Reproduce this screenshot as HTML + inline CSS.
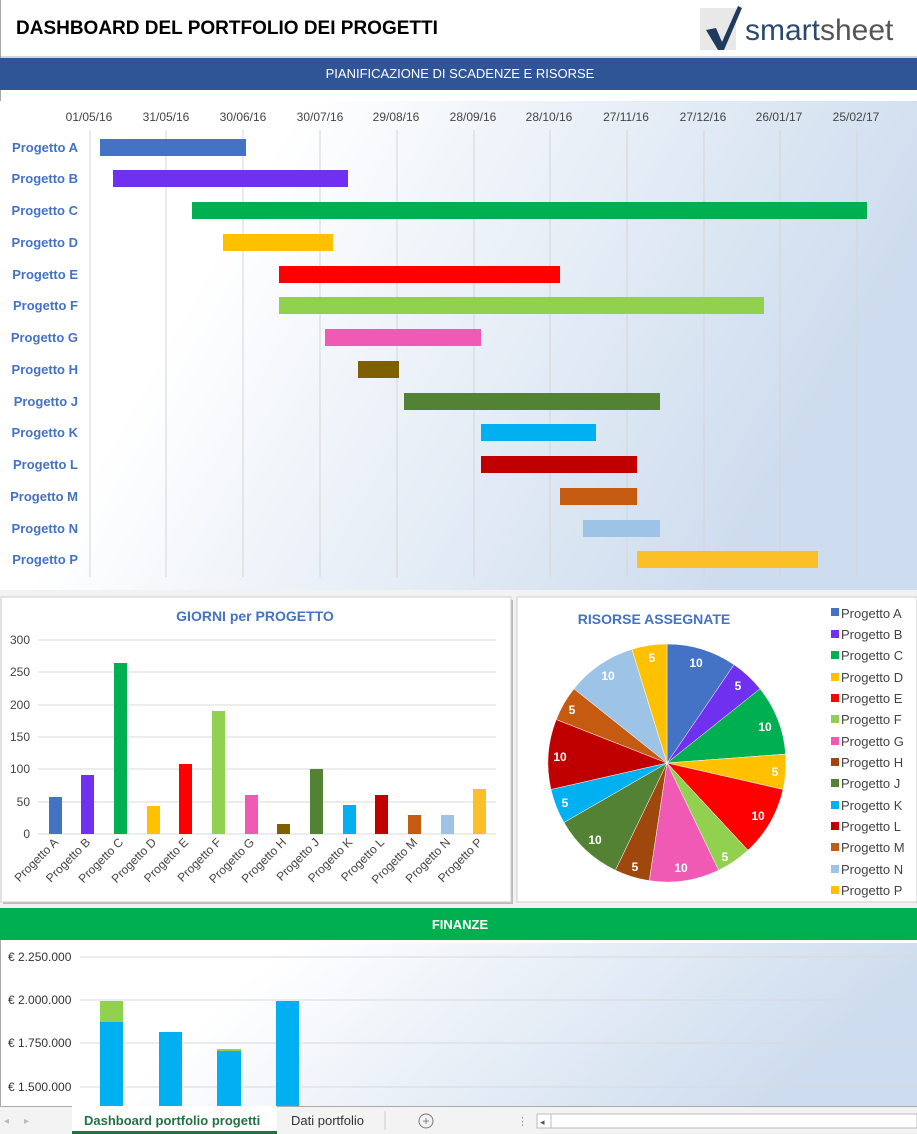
<!DOCTYPE html>
<html><head><meta charset="utf-8"><style>
body{margin:0;width:917px;height:1134px;overflow:hidden;background:#fff;font-family:"Liberation Sans",Arial,sans-serif;}
svg{position:absolute;left:0;top:0}
</style></head><body>
<svg width="917" height="1134" viewBox="0 0 917 1134" font-family="Liberation Sans, Arial, sans-serif">
<defs>
<linearGradient id="g1" x1="0" y1="0" x2="1" y2="0.3"><stop offset="0.3" stop-color="#ffffff"/><stop offset="1" stop-color="#cddcee"/></linearGradient>
<linearGradient id="g2" x1="0" y1="0" x2="1" y2="0.2"><stop offset="0.3" stop-color="#ffffff"/><stop offset="1" stop-color="#cddcee"/></linearGradient>
</defs>
<rect x="0" y="0" width="917" height="1134" fill="#fff"/>
<line x1="0.5" y1="0" x2="0.5" y2="1106" stroke="#aaa"/>
<text x="16" y="34" font-size="19" font-weight="bold" fill="#000">DASHBOARD DEL PORTFOLIO DEI PROGETTI</text>
<!-- logo -->
<rect x="700" y="8" width="36" height="42" fill="#e8e8e8"/>
<path d="M706 30 L716 28 L722 42 L738 6 L742 8 L724 50 L718 50 Z" fill="#1f3a5c"/>
<text x="745" y="40" font-size="30" fill="#2c4a6e">smart<tspan fill="#555">sheet</tspan></text>
<line x1="0" y1="57" x2="917" y2="57" stroke="#aaa"/>
<rect x="0" y="58" width="917" height="32" fill="#2f5597"/>
<text x="460" y="78" font-size="13" fill="#fff" text-anchor="middle">PIANIFICAZIONE DI SCADENZE E RISORSE</text>
<!-- gantt -->
<rect x="0" y="101" width="917" height="489" fill="url(#g1)"/>
<g stroke="#d5d5d5" stroke-width="1">
<line x1="90" y1="130" x2="90" y2="577"/><line x1="166" y1="130" x2="166" y2="577"/><line x1="243" y1="130" x2="243" y2="577"/><line x1="320" y1="130" x2="320" y2="577"/><line x1="397" y1="130" x2="397" y2="577"/><line x1="474" y1="130" x2="474" y2="577"/><line x1="550" y1="130" x2="550" y2="577"/><line x1="627" y1="130" x2="627" y2="577"/><line x1="704" y1="130" x2="704" y2="577"/><line x1="780" y1="130" x2="780" y2="577"/><line x1="857" y1="130" x2="857" y2="577"/>
</g>
<g font-size="12" fill="#444" text-anchor="middle">
<text x="89" y="121">01/05/16</text><text x="166" y="121">31/05/16</text><text x="243" y="121">30/06/16</text><text x="320" y="121">30/07/16</text><text x="396" y="121">29/08/16</text><text x="473" y="121">28/09/16</text><text x="549" y="121">28/10/16</text><text x="626" y="121">27/11/16</text><text x="703" y="121">27/12/16</text><text x="779" y="121">26/01/17</text><text x="856" y="121">25/02/17</text>
</g>
<g font-size="13" font-weight="bold" fill="#4472c4" text-anchor="end">
<text x="78" y="152">Progetto A</text><text x="78" y="183">Progetto B</text><text x="78" y="215">Progetto C</text><text x="78" y="247">Progetto D</text><text x="78" y="279">Progetto E</text><text x="78" y="310">Progetto F</text><text x="78" y="342">Progetto G</text><text x="78" y="374">Progetto H</text><text x="78" y="406">Progetto J</text><text x="78" y="437">Progetto K</text><text x="78" y="469">Progetto L</text><text x="78" y="501">Progetto M</text><text x="78" y="533">Progetto N</text><text x="78" y="564">Progetto P</text>
</g>
<rect x="100" y="139" width="146" height="17" fill="#4472c4"/>
<rect x="113" y="170" width="235" height="17" fill="#7030f0"/>
<rect x="192" y="202" width="675" height="17" fill="#00b050"/>
<rect x="223" y="234" width="110" height="17" fill="#ffc000"/>
<rect x="279" y="266" width="281" height="17" fill="#ff0000"/>
<rect x="279" y="297" width="485" height="17" fill="#92d050"/>
<rect x="325" y="329" width="156" height="17" fill="#f05ab4"/>
<rect x="358" y="361" width="41" height="17" fill="#7f6000"/>
<rect x="404" y="393" width="256" height="17" fill="#548235"/>
<rect x="481" y="424" width="115" height="17" fill="#00b0f0"/>
<rect x="481" y="456" width="156" height="17" fill="#c00000"/>
<rect x="560" y="488" width="77" height="17" fill="#c55a11"/>
<rect x="583" y="520" width="77" height="17" fill="#9dc3e6"/>
<rect x="637" y="551" width="181" height="17" fill="#fbbf27"/>
<!-- bar chart panel -->
<rect x="0" y="590" width="917" height="318" fill="#f2f2f2"/>
<rect x="3" y="600" width="510" height="304" fill="#bbb"/>
<rect x="1" y="597" width="510" height="305" fill="#fff" stroke="#ccc"/>
<text x="255" y="621" font-size="14" font-weight="bold" fill="#4472c4" text-anchor="middle">GIORNI per PROGETTO</text>
<g stroke="#d9d9d9"><line x1="38" y1="640" x2="496" y2="640"/><line x1="38" y1="672" x2="496" y2="672"/><line x1="38" y1="705" x2="496" y2="705"/><line x1="38" y1="737" x2="496" y2="737"/><line x1="38" y1="769" x2="496" y2="769"/><line x1="38" y1="802" x2="496" y2="802"/><line x1="38" y1="834" x2="496" y2="834"/></g>
<g font-size="12" fill="#444" text-anchor="end"><text x="30" y="644">300</text><text x="30" y="676">250</text><text x="30" y="709">200</text><text x="30" y="741">150</text><text x="30" y="773">100</text><text x="30" y="806">50</text><text x="30" y="838">0</text></g>
<rect x="49" y="797" width="13" height="37" fill="#4472c4"/>
<rect x="81" y="775" width="13" height="59" fill="#7030f0"/>
<rect x="114" y="663" width="13" height="171" fill="#00b050"/>
<rect x="147" y="806" width="13" height="28" fill="#ffc000"/>
<rect x="179" y="764" width="13" height="70" fill="#ff0000"/>
<rect x="212" y="711" width="13" height="123" fill="#92d050"/>
<rect x="245" y="795" width="13" height="39" fill="#f05ab4"/>
<rect x="277" y="824" width="13" height="10" fill="#7f6000"/>
<rect x="310" y="769" width="13" height="65" fill="#548235"/>
<rect x="343" y="805" width="13" height="29" fill="#00b0f0"/>
<rect x="375" y="795" width="13" height="39" fill="#c00000"/>
<rect x="408" y="815" width="13" height="19" fill="#c55a11"/>
<rect x="441" y="815" width="13" height="19" fill="#9dc3e6"/>
<rect x="473" y="789" width="13" height="45" fill="#fbbf27"/>
<g font-size="12" fill="#444" text-anchor="end">
<text transform="translate(59,843) rotate(-45)">Progetto A</text><text transform="translate(91,843) rotate(-45)">Progetto B</text><text transform="translate(124,843) rotate(-45)">Progetto C</text><text transform="translate(157,843) rotate(-45)">Progetto D</text><text transform="translate(189,843) rotate(-45)">Progetto E</text><text transform="translate(222,843) rotate(-45)">Progetto F</text><text transform="translate(255,843) rotate(-45)">Progetto G</text><text transform="translate(287,843) rotate(-45)">Progetto H</text><text transform="translate(320,843) rotate(-45)">Progetto J</text><text transform="translate(353,843) rotate(-45)">Progetto K</text><text transform="translate(385,843) rotate(-45)">Progetto L</text><text transform="translate(418,843) rotate(-45)">Progetto M</text><text transform="translate(451,843) rotate(-45)">Progetto N</text><text transform="translate(483,843) rotate(-45)">Progetto P</text>
</g>
<!-- pie panel -->
<rect x="517" y="597" width="400" height="305" fill="#fff" stroke="#ccc"/>
<text x="654" y="624" font-size="14" font-weight="bold" fill="#4472c4" text-anchor="middle">RISORSE ASSEGNATE</text>
<g id="pie"></g>
<g font-size="12" font-weight="bold" fill="#fff" text-anchor="middle">
<text x="696" y="667">10</text><text x="738" y="690">5</text><text x="765" y="731">10</text><text x="775" y="776">5</text><text x="758" y="820">10</text><text x="725" y="861">5</text><text x="681" y="872">10</text><text x="635" y="871">5</text><text x="595" y="844">10</text><text x="565" y="807">5</text><text x="560" y="761">10</text><text x="572" y="714">5</text><text x="608" y="680">10</text><text x="652" y="662">5</text>
</g>
<g font-size="13" fill="#444">
<rect x="831" y="608" width="8" height="8" fill="#4472c4"/><text x="841" y="618">Progetto A</text>
<rect x="831" y="630" width="8" height="8" fill="#7030f0"/><text x="841" y="639">Progetto B</text>
<rect x="831" y="651" width="8" height="8" fill="#00b050"/><text x="841" y="660">Progetto C</text>
<rect x="831" y="673" width="8" height="8" fill="#ffc000"/><text x="841" y="682">Progetto D</text>
<rect x="831" y="694" width="8" height="8" fill="#ff0000"/><text x="841" y="703">Progetto E</text>
<rect x="831" y="715" width="8" height="8" fill="#92d050"/><text x="841" y="724">Progetto F</text>
<rect x="831" y="737" width="8" height="8" fill="#f05ab4"/><text x="841" y="746">Progetto G</text>
<rect x="831" y="758" width="8" height="8" fill="#9e480e"/><text x="841" y="767">Progetto H</text>
<rect x="831" y="779" width="8" height="8" fill="#548235"/><text x="841" y="788">Progetto J</text>
<rect x="831" y="801" width="8" height="8" fill="#00b0f0"/><text x="841" y="810">Progetto K</text>
<rect x="831" y="822" width="8" height="8" fill="#c00000"/><text x="841" y="831">Progetto L</text>
<rect x="831" y="843" width="8" height="8" fill="#c55a11"/><text x="841" y="852">Progetto M</text>
<rect x="831" y="865" width="8" height="8" fill="#9dc3e6"/><text x="841" y="874">Progetto N</text>
<rect x="831" y="886" width="8" height="8" fill="#ffc000"/><text x="841" y="895">Progetto P</text>
</g>
<!-- finance -->
<rect x="0" y="908" width="917" height="32" fill="#00b050"/>
<text x="460" y="929" font-size="13" font-weight="bold" fill="#fff" text-anchor="middle">FINANZE</text>
<rect x="1" y="943" width="916" height="163" fill="url(#g2)"/>
<g stroke="#d9d9d9"><line x1="80" y1="957" x2="917" y2="957"/><line x1="80" y1="1000" x2="917" y2="1000"/><line x1="80" y1="1043" x2="917" y2="1043"/><line x1="80" y1="1087" x2="917" y2="1087"/></g>
<g font-size="12" fill="#333"><text x="8" y="961">€ 2.250.000</text><text x="8" y="1004">€ 2.000.000</text><text x="8" y="1047">€ 1.750.000</text><text x="8" y="1091">€ 1.500.000</text></g>
<rect x="100" y="1001" width="23" height="21" fill="#92d050"/><rect x="100" y="1022" width="23" height="84" fill="#00b0f0"/>
<rect x="159" y="1032" width="23" height="74" fill="#00b0f0"/>
<rect x="217" y="1049" width="24" height="2" fill="#92d050"/><rect x="217" y="1051" width="24" height="55" fill="#00b0f0"/>
<rect x="276" y="1001" width="23" height="105" fill="#00b0f0"/>
<!-- tabs -->
<rect x="0" y="1106" width="917" height="28" fill="#f3f3f3"/>
<line x1="0" y1="1106.5" x2="917" y2="1106.5" stroke="#aaa"/>
<text x="4" y="1124" font-size="10" fill="#bbb">◂</text><text x="24" y="1124" font-size="10" fill="#bbb">▸</text>
<rect x="72" y="1106" width="85" height="28" fill="#fff"/>
<rect x="72" y="1106" width="205" height="26" fill="#fff"/>
<rect x="72" y="1131" width="205" height="3" fill="#217346"/>
<text x="84" y="1125" font-size="13" font-weight="bold" fill="#217346">Dashboard portfolio progetti</text>
<text x="291" y="1125" font-size="13" fill="#333">Dati portfolio</text>
<line x1="385" y1="1111" x2="385" y2="1130" stroke="#ccc"/>
<circle cx="426" cy="1121" r="7" fill="none" stroke="#777"/><text x="426" y="1125" font-size="12" fill="#777" text-anchor="middle">+</text>
<text x="517" y="1125" font-size="11" fill="#999">⋮</text>
<rect x="537" y="1114" width="380" height="14" fill="#fff" stroke="#bbb"/>
<line x1="551" y1="1114" x2="551" y2="1128" stroke="#bbb"/>
<text x="540" y="1125" font-size="9" fill="#555">◂</text>
</svg>
<script>
(function(){
var vals=[10,5,10,5,10,5,10,5,10,5,10,5,10,5];
var cols=["#4472c4","#7030f0","#00b050","#ffc000","#ff0000","#92d050","#f05ab4","#9e480e","#548235","#00b0f0","#c00000","#c55a11","#9dc3e6","#ffc000"];
var cx=667,cy=763,r=119,tot=105,a=0,g=document.getElementById('pie'),s='';
for(var i=0;i<vals.length;i++){
var a2=a+vals[i]/tot*2*Math.PI;
var x1=cx+r*Math.sin(a),y1=cy-r*Math.cos(a),x2=cx+r*Math.sin(a2),y2=cy-r*Math.cos(a2);
s+='<path d="M'+cx+' '+cy+' L'+x1.toFixed(2)+' '+y1.toFixed(2)+' A'+r+' '+r+' 0 0 1 '+x2.toFixed(2)+' '+y2.toFixed(2)+' Z" fill="'+cols[i]+'" stroke="#fff" stroke-width="0.5"/>';
a=a2;}
g.innerHTML=s;
})();
</script>
</body></html>
